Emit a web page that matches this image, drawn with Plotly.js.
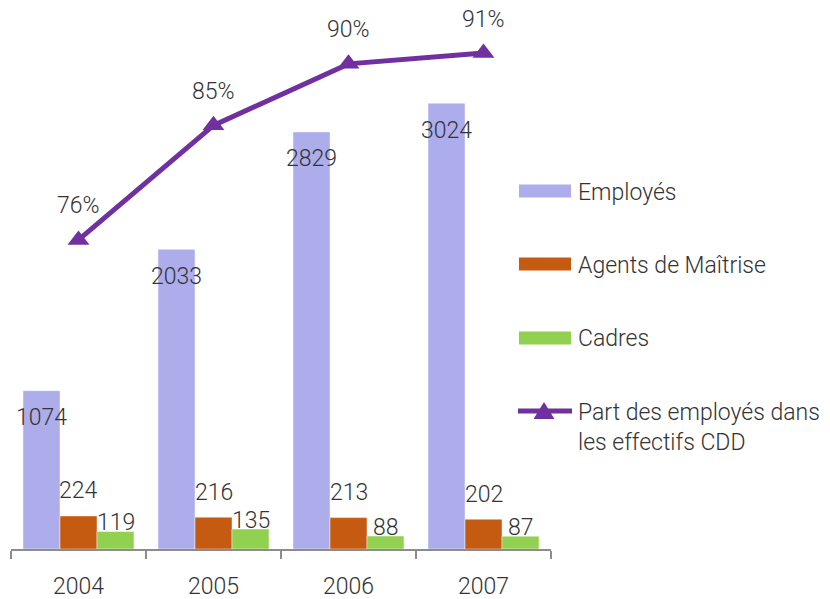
<!DOCTYPE html>
<html>
<head>
<meta charset="utf-8">
<script src="https://cdn.plot.ly/plotly-3.0.1.min.js"></script>
<style>
html,body{margin:0;padding:0;background:#fff;}
#chart{width:830px;height:599px;}
</style>
</head>
<body>
<div id="chart"></div>
<script>
// ---- data ----
var years = ['2004', '2005', '2006', '2007'];
var employes = [1074, 2033, 2829, 3024];
var agents = [224, 216, 213, 202];
var cadres = [119, 135, 88, 87];
var partEmployes = [75.8, 85.3, 90.4, 91.3];
var seriesNames = ['Employés', 'Agents de Maîtrise', 'Cadres', 'Part des employés dans', 'les effectifs CDD'];

// ---- style ----
var FONT = 'Roboto, "DejaVu Sans Condensed", sans-serif';
var TXT = '#333333';
var FS = 23;
var FW = 300;
var C_EMP = '#ADADEB', C_AG = '#C55A11', C_CAD = '#92D050', C_LINE = '#7030A0';

var W = 830, H = 599;
var mL = 11, mR = 279, mT = 33, mB = 50;
var pw = W - mL - mR, ph = H - mT - mB;
function px2x(p){ return (p - mL) / pw; }
function px2y(p){ return (H - mB - p) / ph; }

var traces = [
  {type:'bar', x: years, y: employes, name: seriesNames[0], marker:{color:C_EMP, line:{color:'rgba(255,255,255,0.45)', width:1}}, hoverinfo:'none'},
  {type:'bar', x: years, y: agents, name: seriesNames[1], marker:{color:C_AG, line:{color:'rgba(255,255,255,0.45)', width:1}}, hoverinfo:'none'},
  {type:'bar', x: years, y: cadres, name: seriesNames[2], marker:{color:C_CAD, line:{color:'rgba(255,255,255,0.45)', width:1}}, hoverinfo:'none'},
  {type:'scatter', mode:'lines+markers', x: years, y: partEmployes, yaxis:'y2', name: seriesNames[3],
   line:{color:C_LINE, width:5}, marker:{symbol:'triangle-up', size:19, color:C_LINE}, hoverinfo:'none', cliponaxis:false}
];

var annotations = [];
var txtFont = {family: FONT, size: FS, color: TXT, weight: FW};
years.forEach(function(yr, i){
  annotations.push({x: i, y: employes[i], xref:'x', yref:'y', text: String(employes[i]), showarrow:false, xshift:-37, yshift:-27, font: txtFont});
  annotations.push({x: i, y: agents[i], xref:'x', yref:'y', text: String(agents[i]), showarrow:false, xshift:0, yshift:25, font: txtFont});
  annotations.push({x: i, y: cadres[i], xref:'x', yref:'y', text: String(cadres[i]), showarrow:false, xshift:37, yshift:9, font: txtFont});
  annotations.push({x: i, y: partEmployes[i], xref:'x', yref:'y2', text: Math.round(partEmployes[i]) + '%', showarrow:false, yshift:34, font: txtFont});
});

// legend (manual)
var shapes = [];
var legendRows = [
  {color: C_EMP, y: 191, text: seriesNames[0]},
  {color: C_AG, y: 264, text: seriesNames[1]},
  {color: C_CAD, y: 338, text: seriesNames[2]}
];
legendRows.forEach(function(r){
  shapes.push({type:'rect', xref:'paper', yref:'paper', x0:px2x(519), x1:px2x(571), y0:px2y(r.y-6.5), y1:px2y(r.y+6.5), fillcolor:r.color, line:{width:0}});
  annotations.push({xref:'paper', yref:'paper', x:px2x(576), y:px2y(r.y+1), xanchor:'left', yanchor:'middle', text:r.text, showarrow:false, font: txtFont});
});
shapes.push({type:'line', xref:'paper', yref:'paper', x0:px2x(518), x1:px2x(572), y0:px2y(411), y1:px2y(411), line:{color:C_LINE, width:5}});
var tx = 544, tTop = 402, tBot = 419, tHalf = 10.5;
shapes.push({type:'path', xref:'paper', yref:'paper',
  path: 'M' + px2x(tx - tHalf) + ',' + px2y(tBot) + ' L' + px2x(tx + tHalf) + ',' + px2y(tBot) + ' L' + px2x(tx) + ',' + px2y(tTop) + ' Z',
  fillcolor: C_LINE, line:{width:0}});
annotations.push({xref:'paper', yref:'paper', x:px2x(576), y:px2y(412), xanchor:'left', yanchor:'middle', text:seriesNames[3], showarrow:false, font: txtFont});
annotations.push({xref:'paper', yref:'paper', x:px2x(576), y:px2y(442), xanchor:'left', yanchor:'middle', text:seriesNames[4], showarrow:false, font: txtFont});

var hiddenAxis = {showline:false, showgrid:false, zeroline:false, showticklabels:false, ticks:'', fixedrange:true};

var layout = {
  width: W, height: H,
  margin: {l: mL, r: mR, t: mT, b: mB, pad: 0},
  paper_bgcolor: '#fff', plot_bgcolor: '#fff',
  showlegend: false,
  barmode: 'group', bargap: 0.178, bargroupgap: 0,
  font: {family: FONT, size: FS, color: TXT, weight: FW},
  xaxis: {type:'category', range:[-0.5, 3.5], showline:true, linecolor:'#8C8C8C', linewidth:2,
          ticks:'outside', tickson:'boundaries', ticklen:8, tickwidth:2, tickcolor:'#8C8C8C',
          showgrid:false, zeroline:false, tickfont:{family: FONT, size: FS, color: TXT, weight: FW}, ticklabelstandoff: 15, fixedrange:true},
  yaxis: Object.assign({range:[0, 3500]}, hiddenAxis),
  yaxis2: Object.assign({range:[50.16, 92.96], overlaying:'y', side:'right'}, hiddenAxis),
  annotations: annotations,
  shapes: shapes
};

Plotly.newPlot('chart', traces, layout, {staticPlot:true, displayModeBar:false});
</script>
</body>
</html>
